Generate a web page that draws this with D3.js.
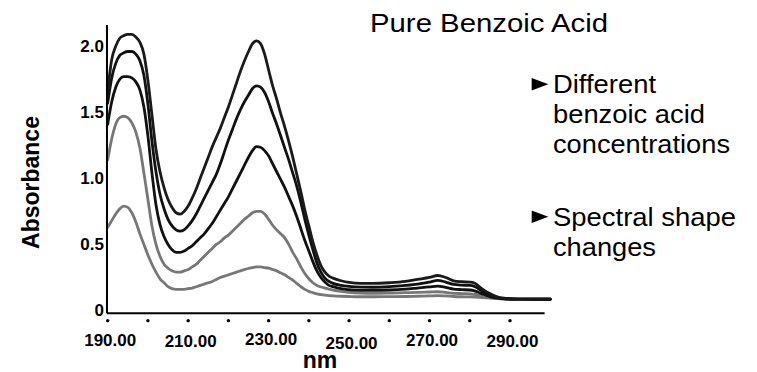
<!DOCTYPE html>
<html>
<head>
<meta charset="utf-8">
<script src="https://cdn.jsdelivr.net/npm/d3@7"></script>
<style>
  html, body { margin: 0; padding: 0; background: #fff; }
  svg { display: block; font-family: "Liberation Sans", Arial, sans-serif; }
</style>
</head>
<body>
<div id="chart"></div>
<script>
// ---------- data ----------
const wavelengths = [190,191,192,193,194,195,196,197,198,199,200,201,202,203,204,205,206,207,208,209,
  210,211,212,213,214,215,216,217,218,219,220,221,222,223,224,225,226,227,228,229,
  230,231,232,233,234,235,236,237,238,239,240,241,242,243,244,245,246,248,250,253,
  256,260,264,267,270,272,274,276,278,280,281,282,283,284,285,286,287,288,290,293,296,300];

const conc1 = [1.66,1.90,2.00,2.06,2.08,2.09,2.09,2.07,2.03,1.94,1.74,1.48,1.22,1.05,0.93,0.84,0.78,0.74,0.73,0.75,
  0.79,0.85,0.92,1.00,1.08,1.16,1.24,1.31,1.38,1.46,1.54,1.63,1.72,1.81,1.89,1.96,2.02,2.04,2.02,1.94,
  1.82,1.70,1.60,1.49,1.39,1.28,1.16,1.03,0.90,0.76,0.64,0.52,0.42,0.34,0.29,0.26,0.245,0.225,0.212,0.205,
  0.205,0.21,0.22,0.235,0.25,0.265,0.25,0.225,0.218,0.215,0.21,0.19,0.165,0.145,0.128,0.113,0.102,0.095,0.088,0.086,0.085,0.085];

const conc2 = [1.57,1.76,1.87,1.93,1.95,1.96,1.96,1.94,1.89,1.78,1.56,1.28,1.05,0.88,0.77,0.69,0.64,0.61,0.60,0.61,
  0.64,0.68,0.73,0.79,0.85,0.91,0.97,1.03,1.11,1.20,1.29,1.37,1.45,1.52,1.58,1.63,1.68,1.70,1.69,1.65,
  1.58,1.49,1.41,1.32,1.23,1.14,1.04,0.94,0.82,0.69,0.57,0.46,0.36,0.29,0.245,0.22,0.205,0.19,0.182,0.177,
  0.176,0.18,0.19,0.20,0.215,0.228,0.215,0.197,0.192,0.19,0.185,0.168,0.148,0.132,0.118,0.106,0.098,0.092,0.087,0.086,0.085,0.085];

const conc3 = [1.41,1.58,1.69,1.75,1.77,1.77,1.76,1.73,1.67,1.54,1.32,1.04,0.80,0.65,0.56,0.50,0.46,0.44,0.44,0.45,
  0.47,0.49,0.52,0.55,0.58,0.62,0.66,0.71,0.76,0.81,0.86,0.92,0.98,1.04,1.10,1.16,1.21,1.24,1.235,1.21,
  1.17,1.11,1.05,0.99,0.93,0.86,0.79,0.71,0.62,0.53,0.45,0.37,0.30,0.25,0.215,0.19,0.18,0.165,0.158,0.153,
  0.152,0.155,0.162,0.17,0.178,0.185,0.175,0.162,0.158,0.155,0.15,0.14,0.128,0.115,0.105,0.098,0.093,0.09,0.087,0.086,0.085,0.085];

const conc4 = [1.14,1.30,1.41,1.46,1.47,1.46,1.42,1.35,1.23,1.04,0.84,0.64,0.50,0.41,0.35,0.32,0.30,0.29,0.29,0.30,
  0.31,0.33,0.35,0.38,0.41,0.44,0.47,0.50,0.52,0.55,0.57,0.60,0.63,0.66,0.69,0.715,0.74,0.75,0.75,0.73,
  0.69,0.645,0.61,0.58,0.55,0.50,0.44,0.39,0.33,0.28,0.24,0.21,0.19,0.178,0.17,0.162,0.155,0.145,0.138,0.132,
  0.13,0.132,0.135,0.137,0.14,0.142,0.137,0.13,0.128,0.126,0.123,0.118,0.11,0.104,0.098,0.094,0.09,0.088,0.087,0.086,0.085,0.085];

const conc5 = [0.63,0.68,0.73,0.77,0.79,0.78,0.74,0.67,0.58,0.50,0.42,0.35,0.29,0.24,0.21,0.18,0.165,0.16,0.16,0.16,
  0.165,0.17,0.18,0.19,0.20,0.21,0.22,0.235,0.25,0.26,0.27,0.28,0.29,0.30,0.31,0.318,0.325,0.33,0.33,0.325,
  0.32,0.31,0.30,0.285,0.27,0.25,0.23,0.205,0.18,0.16,0.145,0.135,0.125,0.12,0.116,0.113,0.111,0.108,0.106,0.104,
  0.104,0.105,0.106,0.108,0.11,0.113,0.11,0.106,0.104,0.103,0.102,0.10,0.098,0.096,0.094,0.092,0.09,0.088,0.087,0.086,0.085,0.085];

const seriesList = [conc5, conc4, conc3, conc2, conc1];
const seriesColors = ["#777777", "#777777", "#111111", "#111111", "#1a1a1a"];

const yTicks = [0, 0.5, 1.0, 1.5, 2.0];
const xDotTicks = [190, 200, 210, 220, 230, 240, 250, 260, 270, 280, 290];
const xLabelTicks = [190, 210, 230, 250, 270, 290];

const titleText = "Pure Benzoic Acid";
const bullet1 = ["Different", "benzoic acid", "concentrations"];
const bullet2 = ["Spectral shape", "changes"];

// ---------- drawing ----------
const W = 757, H = 372;
const svg = d3.select("#chart").append("svg").attr("width", W).attr("height", H);

const x = d3.scaleLinear().domain([190, 290]).range([107.7, 510]);
const y = d3.scaleLinear().domain([0, 2]).range([310.5, 46.2]);

const axisX0 = x(189.82), axisX1 = x(298.6);
const axisYBottom = y(-0.02), axisYTop = y(2.16);

// curves
const line = d3.line()
  .x((d, i) => x(wavelengths[i]))
  .y(d => y(d))
  .curve(d3.curveMonotoneX);

svg.append("g").selectAll("path")
  .data(seriesList)
  .join("path")
  .attr("d", d => line(d))
  .attr("fill", "none")
  .attr("stroke", (d, i) => seriesColors[i])
  .attr("stroke-width", 2.8)
  .attr("stroke-linejoin", "round")
  .attr("stroke-linecap", "round");

// axis lines
svg.append("line").attr("x1", axisX0).attr("x2", axisX0).attr("y1", axisYTop).attr("y2", axisYBottom)
  .attr("stroke", "#000").attr("stroke-width", 2);
svg.append("line").attr("x1", axisX0).attr("x2", axisX1).attr("y1", axisYBottom).attr("y2", axisYBottom)
  .attr("stroke", "#000").attr("stroke-width", 2);

// y tick labels
const yAxis = d3.axisLeft(y).tickValues(yTicks).tickSize(0).tickPadding(3)
  .tickFormat(d => d === 0 ? "0" : d3.format(".1f")(d));
const gy = svg.append("g").attr("transform", `translate(${axisX0},0)`).call(yAxis);
gy.select(".domain").remove();
gy.selectAll("text").attr("font-size", 17).attr("font-weight", "bold")
  .attr("font-family", "'Liberation Sans', Arial, sans-serif").attr("fill", "#000");

// x tick dots
svg.append("g").selectAll("circle").data(xDotTicks).join("circle")
  .attr("cx", d => x(d)).attr("cy", axisYBottom + 7.5).attr("r", 1.7).attr("fill", "#000");

// x tick labels
const xAxis = d3.axisBottom(x).tickValues(xLabelTicks).tickSize(0).tickPadding(21)
  .tickFormat(d3.format(".2f"));
const gx = svg.append("g").attr("transform", `translate(2,${axisYBottom})`).call(xAxis);
gx.select(".domain").remove();
const nudge = {190: 0, 210: 1, 230: -1, 250: 3, 270: 0, 290: 1};
gx.selectAll("text").attr("font-size", 17).attr("font-weight", "bold")
  .attr("font-family", "'Liberation Sans', Arial, sans-serif").attr("fill", "#000")
  .attr("transform", d => `translate(0,${nudge[d] || 0})`);

// axis titles
svg.append("text").attr("x", 320).attr("y", 368).attr("text-anchor", "middle")
  .attr("font-size", 23).attr("font-weight", "bold").text("nm");
svg.append("text").attr("transform", "translate(38.5,182.5) rotate(-90)")
  .attr("text-anchor", "middle").attr("font-size", 23).attr("font-weight", "bold").text("Absorbance");

// title
svg.append("text").attr("x", 370).attr("y", 31.7).attr("font-size", 26)
  .attr("textLength", 238).attr("lengthAdjust", "spacingAndGlyphs").text(titleText);

// bullets
const bulletWidths1 = [103, 152, 177];
const bulletWidths2 = [183, 103];
const b1Base = [93.3, 123.3, 153.3];
const b2Base = [225.8, 255.6];

function bullet(lines, bases, widths) {
  const top = bases[0] - 15.2;
  svg.append("path")
    .attr("d", `M531.7,${top}L531.7,${top + 12.4}L548.3,${top + 6.2}Z`)
    .attr("fill", "#000");
  lines.forEach((t, i) => {
    svg.append("text").attr("x", 553).attr("y", bases[i]).attr("font-size", 25.5)
      .attr("textLength", widths[i]).attr("lengthAdjust", "spacingAndGlyphs").text(t);
  });
}
bullet(bullet1, b1Base, bulletWidths1);
bullet(bullet2, b2Base, bulletWidths2);
</script>
</body>
</html>
